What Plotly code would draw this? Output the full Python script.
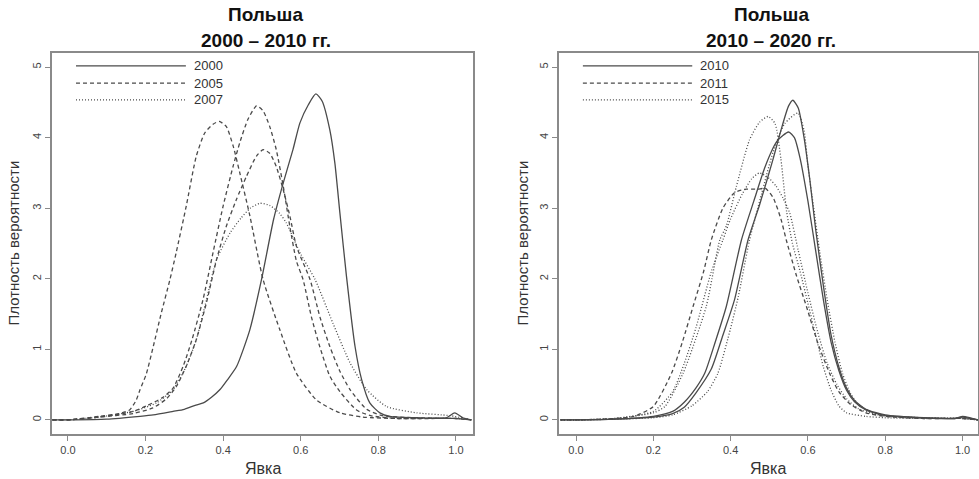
import plotly.graph_objects as go

# ---------------- data ----------------
# Left panel: Польша 2000 – 2010
l_2000_x = [-0.04, 0.0, 0.1, 0.186, 0.22, 0.271, 0.30, 0.33, 0.349, 0.37, 0.392, 0.41, 0.435, 0.469, 0.499, 0.53, 0.555, 0.58, 0.598, 0.62, 0.639, 0.655, 0.675, 0.688, 0.701, 0.718, 0.740, 0.757, 0.778, 0.804, 0.83, 0.9, 0.975, 0.997, 1.018, 1.04]
l_2000_y = [0.0, 0.0, 0.01, 0.05, 0.07, 0.12, 0.15, 0.21, 0.24, 0.32, 0.43, 0.56, 0.76, 1.28, 1.99, 2.84, 3.36, 3.83, 4.21, 4.47, 4.62, 4.52, 4.11, 3.64, 2.93, 2.03, 1.04, 0.57, 0.24, 0.10, 0.05, 0.03, 0.03, 0.10, 0.03, 0.0]

l_2001_x = [-0.04, 0.0, 0.08, 0.168, 0.203, 0.245, 0.271, 0.297, 0.32, 0.348, 0.374, 0.40, 0.426, 0.443, 0.464, 0.486, 0.503, 0.52, 0.537, 0.555, 0.572, 0.589, 0.606, 0.628, 0.649, 0.675, 0.701, 0.744, 0.78, 0.85, 1.0, 1.04]
l_2001_y = [0.0, 0.0, 0.04, 0.12, 0.2, 0.32, 0.45, 0.76, 1.14, 1.70, 2.37, 3.03, 3.6, 3.93, 4.26, 4.45, 4.38, 4.16, 3.83, 3.31, 2.74, 2.25, 1.99, 1.45, 1.04, 0.62, 0.40, 0.14, 0.06, 0.02, 0.02, 0.0]

l_2005a_x = [-0.04, 0.0, 0.08, 0.133, 0.159, 0.176, 0.186, 0.202, 0.220, 0.240, 0.263, 0.279, 0.305, 0.331, 0.353, 0.374, 0.390, 0.408, 0.426, 0.443, 0.469, 0.503, 0.546, 0.589, 0.641, 0.701, 0.76, 0.85, 1.0, 1.04]
l_2005a_y = [0.0, 0.0, 0.05, 0.09, 0.14, 0.28, 0.43, 0.65, 1.04, 1.5, 1.99, 2.37, 3.03, 3.74, 4.07, 4.19, 4.23, 4.16, 3.88, 3.50, 2.89, 1.99, 1.28, 0.66, 0.28, 0.10, 0.04, 0.02, 0.02, 0.0]

l_2005b_x = [-0.04, 0.0, 0.08, 0.168, 0.219, 0.254, 0.279, 0.305, 0.331, 0.357, 0.383, 0.408, 0.434, 0.460, 0.486, 0.503, 0.520, 0.537, 0.555, 0.572, 0.589, 0.624, 0.650, 0.675, 0.700, 0.727, 0.770, 0.81, 0.9, 1.0, 1.04]
l_2005b_y = [0.0, 0.0, 0.04, 0.09, 0.17, 0.30, 0.47, 0.76, 1.14, 1.66, 2.27, 2.74, 3.12, 3.45, 3.74, 3.83, 3.78, 3.59, 3.26, 2.89, 2.46, 1.99, 1.45, 1.04, 0.70, 0.43, 0.15, 0.06, 0.03, 0.02, 0.0]

l_2007_x = [-0.04, 0.0, 0.08, 0.168, 0.228, 0.271, 0.305, 0.331, 0.357, 0.383, 0.418, 0.446, 0.470, 0.495, 0.520, 0.545, 0.563, 0.60, 0.637, 0.683, 0.727, 0.770, 0.821, 0.899, 0.985, 1.04]
l_2007_y = [0.0, 0.0, 0.04, 0.12, 0.24, 0.43, 0.76, 1.14, 1.70, 2.27, 2.65, 2.86, 3.0, 3.07, 3.04, 2.93, 2.79, 2.35, 1.99, 1.37, 0.81, 0.43, 0.19, 0.10, 0.06, 0.0]

# Right panel: Польша 2010 – 2020
r_2010_x = [-0.04, 0.0, 0.1, 0.2, 0.25, 0.28, 0.31, 0.35, 0.38, 0.41, 0.445, 0.475, 0.51, 0.53, 0.55, 0.561, 0.575, 0.59, 0.605, 0.62, 0.64, 0.66, 0.68, 0.70, 0.72, 0.75, 0.8, 0.9, 0.98, 1.0, 1.02, 1.04]
r_2010_y = [0.0, 0.0, 0.01, 0.04, 0.09, 0.18, 0.38, 0.72, 1.2, 1.7, 2.55, 3.05, 3.7, 4.1, 4.45, 4.53, 4.42, 4.0, 3.4, 2.7, 1.9, 1.2, 0.75, 0.45, 0.28, 0.15, 0.07, 0.03, 0.02, 0.05, 0.03, 0.0]

r_2010b_x = [-0.04, 0.0, 0.1, 0.2, 0.25, 0.28, 0.31, 0.333, 0.36, 0.389, 0.428, 0.46, 0.49, 0.52, 0.55, 0.565, 0.58, 0.60, 0.62, 0.64, 0.66, 0.68, 0.70, 0.72, 0.75, 0.8, 0.9, 0.98, 1.0, 1.02, 1.04]
r_2010b_y = [0.0, 0.0, 0.01, 0.05, 0.12, 0.25, 0.45, 0.66, 1.1, 1.61, 2.55, 3.1, 3.6, 3.95, 4.08, 4.0, 3.7, 3.1, 2.4, 1.7, 1.1, 0.7, 0.42, 0.26, 0.14, 0.06, 0.03, 0.02, 0.04, 0.02, 0.0]

r_2011_x = [-0.04, 0.0, 0.1, 0.15, 0.2, 0.247, 0.275, 0.303, 0.33, 0.35, 0.38, 0.41, 0.44, 0.47, 0.49, 0.51, 0.53, 0.544, 0.57, 0.596, 0.625, 0.656, 0.68, 0.71, 0.75, 0.8, 0.9, 1.0, 1.04]
r_2011_y = [0.0, 0.0, 0.02, 0.05, 0.19, 0.66, 1.1, 1.61, 2.1, 2.55, 3.0, 3.22, 3.27, 3.27, 3.28, 3.15, 2.85, 2.55, 2.05, 1.61, 1.1, 0.66, 0.4, 0.22, 0.1, 0.05, 0.02, 0.02, 0.0]

r_2015_x = [-0.04, 0.0, 0.1, 0.2, 0.23, 0.277, 0.337, 0.372, 0.389, 0.415, 0.449, 0.475, 0.497, 0.515, 0.53, 0.545, 0.56, 0.58, 0.60, 0.62, 0.64, 0.66, 0.68, 0.70, 0.75, 0.8, 0.9, 1.0, 1.04]
r_2015_y = [0.0, 0.0, 0.02, 0.1, 0.19, 0.66, 1.61, 2.55, 2.75, 3.31, 3.97, 4.22, 4.30, 4.2, 3.7, 2.95, 2.5, 2.1, 1.65, 1.2, 0.75, 0.42, 0.2, 0.1, 0.05, 0.03, 0.02, 0.02, 0.0]

r_2015b_x = [-0.04, 0.0, 0.1, 0.2, 0.25, 0.28, 0.31, 0.35, 0.38, 0.40, 0.43, 0.455, 0.475, 0.50, 0.518, 0.535, 0.553, 0.575, 0.60, 0.625, 0.65, 0.675, 0.70, 0.73, 0.78, 0.85, 1.0, 1.04]
r_2015b_y = [0.0, 0.0, 0.02, 0.12, 0.4, 0.8, 1.3, 2.1, 2.55, 2.85, 3.2, 3.42, 3.50, 3.42, 3.31, 3.15, 2.93, 2.4, 1.8, 1.25, 0.8, 0.5, 0.3, 0.16, 0.07, 0.03, 0.02, 0.0]

r_2019_x = [-0.04, 0.0, 0.1, 0.2, 0.25, 0.30, 0.34, 0.367, 0.40, 0.42, 0.449, 0.48, 0.51, 0.54, 0.574, 0.59, 0.60, 0.615, 0.63, 0.65, 0.67, 0.69, 0.71, 0.73, 0.76, 0.8, 0.9, 1.0, 1.04]
r_2019_y = [0.0, 0.0, 0.01, 0.03, 0.07, 0.2, 0.4, 0.66, 1.3, 1.75, 2.55, 3.2, 3.8, 4.2, 4.35, 4.1, 3.6, 3.0, 2.4, 1.7, 1.1, 0.65, 0.38, 0.22, 0.12, 0.06, 0.03, 0.02, 0.0]

x_tickvals = [0.0, 0.2, 0.4, 0.6, 0.8, 1.0]
x_ticktext = ["0.0", "0.2", "0.4", "0.6", "0.8", "1.0"]
y_tickvals = [0, 1, 2, 3, 4, 5]
y_ticktext = ["0", "1", "2", "3", "4", "5"]

left_title = ["Польша", "2000 – 2010 гг."]
right_title = ["Польша", "2010 – 2020 гг."]
left_legend = ["2000", "2005", "2007"]
right_legend = ["2010", "2011", "2015"]
x_label = "Явка"
y_label = "Плотность вероятности"

# ---------------- figure ----------------
LINE = "#4a4a4a"
FRAME = "#8a8a8a"
TXT = "#444444"
FONT = "Liberation Sans, Arial, sans-serif"
DASH = "4px,3px"
DOT = "1px,2px"
STYLE = {"solid": "solid", "dashed": DASH, "dotted": DOT}

fig = go.Figure()

left_series = [
    ("2000", l_2000_x, l_2000_y, "solid"),
    ("2001", l_2001_x, l_2001_y, "dashed"),
    ("2005", l_2005a_x, l_2005a_y, "dashed"),
    ("2005 (II)", l_2005b_x, l_2005b_y, "dashed"),
    ("2007", l_2007_x, l_2007_y, "dotted"),
]
right_series = [
    ("2010", r_2010_x, r_2010_y, "solid"),
    ("2010 (II)", r_2010b_x, r_2010b_y, "solid"),
    ("2011", r_2011_x, r_2011_y, "dashed"),
    ("2015", r_2015_x, r_2015_y, "dotted"),
    ("2015 (II)", r_2015b_x, r_2015b_y, "dotted"),
    ("2019", r_2019_x, r_2019_y, "dotted"),
]

for name, xs, ys, st in left_series:
    fig.add_trace(go.Scatter(x=xs, y=ys, mode="lines", name=name, showlegend=False,
                             line=dict(color=LINE, width=1.3, dash=STYLE[st], shape="spline", smoothing=0.6),
                             xaxis="x", yaxis="y"))
for name, xs, ys, st in right_series:
    fig.add_trace(go.Scatter(x=xs, y=ys, mode="lines", name=name, showlegend=False,
                             line=dict(color=LINE, width=1.3, dash=STYLE[st], shape="spline", smoothing=0.6),
                             xaxis="x2", yaxis="y2"))

W, H = 979, 479
L_dom = [52 / W, 473 / W]
R_dom = [559 / W, 978 / W]
Y_dom = [(H - 434) / H, (H - 53) / H]

ax_common = dict(showline=True, mirror=True, linecolor=FRAME, linewidth=1.5,
                 showgrid=False, zeroline=False, ticks="outside", ticklen=5,
                 tickcolor=FRAME, tickwidth=1,
                 tickfont=dict(family=FONT, size=11, color=TXT))

fig.update_layout(
    width=W, height=H,
    margin=dict(l=0, r=0, t=0, b=0),
    paper_bgcolor="white", plot_bgcolor="white",
    showlegend=False,
    xaxis=dict(domain=L_dom, range=[-0.041, 1.044], tickvals=x_tickvals, ticktext=x_ticktext, anchor="y", **ax_common),
    yaxis=dict(domain=Y_dom, range=[-0.2, 5.2], tickvals=y_tickvals, ticktext=y_ticktext, tickangle=-90, anchor="x", **ax_common),
    xaxis2=dict(domain=R_dom, range=[-0.044, 1.04], tickvals=x_tickvals, ticktext=x_ticktext, anchor="y2", **ax_common),
    yaxis2=dict(domain=Y_dom, range=[-0.2, 5.2], tickvals=y_tickvals, ticktext=y_ticktext, tickangle=-90, anchor="x2", **ax_common),
)

ann = []
for dom, ttl in [(L_dom, left_title), (R_dom, right_title)]:
    cx = (dom[0] + dom[1]) / 2 + 3 / W
    ann.append(dict(x=cx, y=1 - 15 / H, xref="paper", yref="paper", text="<b>%s</b>" % ttl[0],
                    showarrow=False, font=dict(family=FONT, size=19, color="#111111"),
                    xanchor="center", yanchor="middle"))
    ann.append(dict(x=cx, y=1 - 40 / H, xref="paper", yref="paper", text="<b>%s</b>" % ttl[1],
                    showarrow=False, font=dict(family=FONT, size=19, color="#111111"),
                    xanchor="center", yanchor="middle"))
    ann.append(dict(x=(dom[0] + dom[1]) / 2, y=1 - 468 / H, xref="paper", yref="paper", text=x_label,
                    showarrow=False, font=dict(family=FONT, size=16, color="#333333"),
                    xanchor="center", yanchor="middle"))

for px in [13, 522]:
    ann.append(dict(x=px / W, y=(Y_dom[0] + Y_dom[1]) / 2, xref="paper", yref="paper", text=y_label,
                    textangle=-90, showarrow=False, font=dict(family=FONT, size=15, color="#333333"),
                    xanchor="center", yanchor="middle"))

shapes = []
leg_rows = [0.966, 0.921, 0.877]
for xa, ya, labels in [("x", "y", left_legend), ("x2", "y2", right_legend)]:
    for row, lab, st in zip(leg_rows, labels, ["solid", "dashed", "dotted"]):
        shapes.append(dict(type="line", xref=xa + " domain", yref=ya + " domain",
                           x0=0.057, x1=0.318, y0=row, y1=row,
                           line=dict(color=LINE, width=1.3, dash=STYLE[st])))
        ann.append(dict(x=0.332, y=row, xref=xa + " domain", yref=ya + " domain", text=lab,
                        showarrow=False, font=dict(family=FONT, size=13, color="#333333"),
                        xanchor="left", yanchor="middle"))

fig.update_layout(annotations=ann, shapes=shapes)
fig.write_html("out.html", config={"displayModeBar": False},
               post_script="document.body.style.margin='0';document.body.style.overflow='hidden';")
